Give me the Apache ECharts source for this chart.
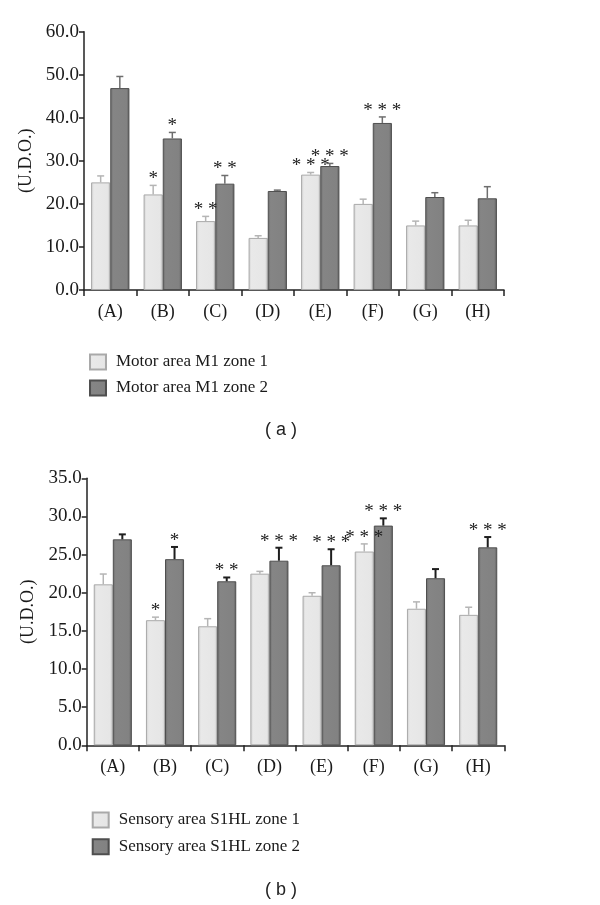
<!DOCTYPE html>
<html>
<head>
<meta charset="utf-8">
<script src="https://cdn.jsdelivr.net/npm/echarts@6/dist/echarts.min.js"></script>
<style>html,body{margin:0;padding:0;background:#fff;}#c{width:600px;height:905px;}</style>
</head>
<body>
<div id="c"></div>
<script>
// ---- data ----
const categories = ['(A)', '(B)', '(C)', '(D)', '(E)', '(F)', '(G)', '(H)'];

const motorZone1 = [25.0, 22.2, 16.0, 12.1, 26.8, 20.0, 15.0, 15.0];
const motorZone1Err = [1.5, 2.1, 1.1, 0.5, 0.5, 1.1, 1.0, 1.2];
const motorZone2 = [46.9, 35.2, 24.7, 23.0, 28.8, 38.8, 21.6, 21.3];
const motorZone2Err = [2.7, 1.4, 1.9, 0.2, 0.6, 1.4, 1.0, 2.7];
const motorSig1 = ['', '*', '* *', '', '* * *', '', '', ''];
const motorSig2 = ['', '*', '* *', '', '* * *', '* * *', '', ''];

const sensZone1 = [21.1, 16.4, 15.6, 22.5, 19.6, 25.4, 17.9, 17.1];
const sensZone1Err = [1.35, 0.4, 1.0, 0.3, 0.4, 1.0, 0.9, 1.0];
const sensZone2 = [27.0, 24.4, 21.5, 24.2, 23.6, 28.8, 21.9, 25.95];
const sensZone2Err = [0.65, 1.6, 0.5, 1.7, 2.1, 0.95, 1.2, 1.35];
const sensSig1 = ['', '*', '', '', '', '* * *', '', ''];
const sensSig2 = ['', '*', '* *', '* * *', '* * *', '* * *', '', '* * *'];

const motorTicks = {min: 0, max: 60, interval: 10};
const sensTicks = {min: 0, max: 35, interval: 5};

const legendMotor = ['Motor area M1 zone 1', 'Motor area M1 zone 2'];
const legendSens = ['Sensory area S1HL zone 1', 'Sensory area S1HL zone 2'];

// ---- styling ----
const SERIF = 'Liberation Serif';
const CAT_GAP = 0.27;
const lightFill = {type: 'linear', x: 0, y: 0, x2: 1, y2: 0, colorStops: [
  {offset: 0, color: '#cfcfcf'}, {offset: 0.15, color: '#e9e9e9'},
  {offset: 0.85, color: '#e6e6e6'}, {offset: 1, color: '#cdcdcd'}]};
const darkFill = {type: 'linear', x: 0, y: 0, x2: 1, y2: 0, colorStops: [
  {offset: 0, color: '#6a6a6a'}, {offset: 0.15, color: '#858585'},
  {offset: 0.85, color: '#828282'}, {offset: 1, color: '#5e5e5e'}]};

function barSeries(name, data, fill, border, gi) {
  return {
    name: name, type: 'bar', data: data, xAxisIndex: gi, yAxisIndex: gi,
    barGap: '0%', barCategoryGap: (CAT_GAP * 100) + '%',
    itemStyle: {color: fill, borderColor: border, borderWidth: 1},
    emphasis: {disabled: true}, z: 2
  };
}

function errSeries(means, errs, sigs, side, color, lw, gi) {
  return {
    type: 'custom', xAxisIndex: gi, yAxisIndex: gi, z: 5, silent: true,
    data: means.map((m, i) => [i, m, errs[i]]),
    renderItem: function (params, api) {
      const i = api.value(0), v = api.value(1), e = api.value(2);
      const base = api.coord([i, v]);
      const top = api.coord([i, v + e]);
      const band = api.size([1, 0])[0];
      const bw = band * (1 - CAT_GAP) / 2;
      const x = base[0] + side * bw / 2;
      const children = [
        {type: 'line', shape: {x1: x, y1: base[1], x2: x, y2: top[1]}, style: {stroke: color, lineWidth: lw}},
        {type: 'line', shape: {x1: x - 3.5, y1: top[1], x2: x + 3.5, y2: top[1]}, style: {stroke: color, lineWidth: lw}}
      ];
      const s = sigs[params.dataIndex];
      if (s) {
        children.push({type: 'text', style: {text: s, x: x, y: top[1] - 6, align: 'center', verticalAlign: 'middle',
          font: '19px ' + SERIF, fill: '#222'}});
      }
      return {type: 'group', children: children};
    }
  };
}

function xAxis(gi) {
  return {
    type: 'category', data: categories, gridIndex: gi,
    axisLine: {lineStyle: {color: '#222', width: 1.5}},
    axisTick: {show: true, alignWithLabel: false, length: 6, lineStyle: {color: '#222', width: 1.5}},
    axisLabel: {color: '#1a1a1a', fontFamily: SERIF, fontSize: 18, margin: 13}
  };
}
function yAxis(gi, t) {
  return {
    type: 'value', gridIndex: gi, min: t.min, max: t.max, interval: t.interval,
    name: '(U.D.O.)', nameLocation: 'middle', nameGap: 47, nameRotate: 90,
    nameTextStyle: {color: '#1a1a1a', fontFamily: SERIF, fontSize: 18},
    axisLine: {show: true, lineStyle: {color: '#222', width: 1.5}},
    axisTick: {show: true, length: 5, lineStyle: {color: '#222', width: 1.5}},
    splitLine: {show: false},
    axisLabel: {color: '#1a1a1a', fontFamily: SERIF, fontSize: 19, margin: 5, formatter: v => v.toFixed(1)}
  };
}

const chart = echarts.init(document.getElementById('c'));
chart.setOption({
  animation: false,
  backgroundColor: '#fff',
  grid: [
    {left: 84, top: 31.7, width: 420, height: 258.3},
    {left: 86.7, top: 478.3, width: 417.6, height: 267}
  ],
  xAxis: [xAxis(0), xAxis(1)],
  yAxis: [yAxis(0, motorTicks), yAxis(1, sensTicks)],
  legend: [
    {data: legendMotor, orient: 'vertical', left: 84, top: 348.5, itemWidth: 16, itemHeight: 15, itemGap: 9,
      icon: 'rect', selectedMode: false,
      textStyle: {color: '#1a1a1a', fontFamily: SERIF, fontSize: 17, padding: [0, 0, 0, 5]}},
    {data: legendSens, orient: 'vertical', left: 86.7, top: 806.5, itemWidth: 16, itemHeight: 15, itemGap: 9.7,
      icon: 'rect', selectedMode: false,
      textStyle: {color: '#1a1a1a', fontFamily: SERIF, fontSize: 17, padding: [0, 0, 0, 5]}}
  ],
  graphic: [
    {type: 'text', x: 281, y: 430, style: {text: '( a )', align: 'center', verticalAlign: 'middle', font: '18px Liberation Sans', fill: '#222'}},
    {type: 'text', x: 281, y: 890, style: {text: '( b )', align: 'center', verticalAlign: 'middle', font: '18px Liberation Sans', fill: '#222'}}
  ],
  series: [
    barSeries(legendMotor[0], motorZone1, lightFill, '#a9a9a9', 0),
    barSeries(legendMotor[1], motorZone2, darkFill, '#4f4f4f', 0),
    errSeries(motorZone1, motorZone1Err, motorSig1, -1, '#b5b5b5', 1.5, 0),
    errSeries(motorZone2, motorZone2Err, motorSig2, 1, '#6e6e6e', 1.5, 0),
    barSeries(legendSens[0], sensZone1, lightFill, '#a9a9a9', 1),
    barSeries(legendSens[1], sensZone2, darkFill, '#4f4f4f', 1),
    errSeries(sensZone1, sensZone1Err, sensSig1, -1, '#b5b5b5', 1.5, 1),
    errSeries(sensZone2, sensZone2Err, sensSig2, 1, '#1e1e1e', 2, 1)
  ]
});
</script>
</body>
</html>
